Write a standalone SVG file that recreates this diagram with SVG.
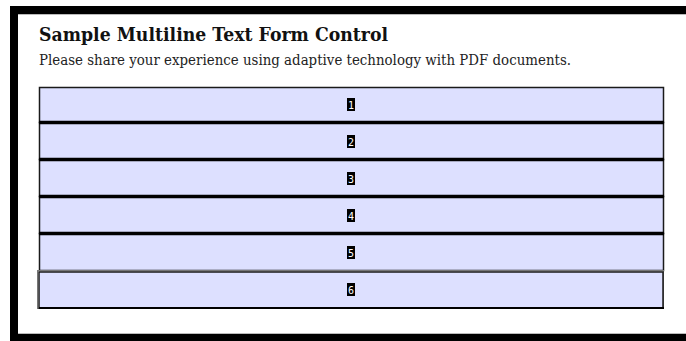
<svg xmlns="http://www.w3.org/2000/svg" width="686" height="341" viewBox="0 0 686 341">
  <style>
    .title { font-family: "DejaVu Serif", "Liberation Serif", serif; font-weight: bold; font-size: 19px; fill: #111; }
    .sub { font-family: "DejaVu Serif", "Liberation Serif", serif; font-size: 14px; fill: #222; }
    .field { fill: #dde0ff; stroke: #1a1a1a; stroke-width: 1.5; }
    .sep { stroke: #000; stroke-width: 3.5; }
    .tag { fill: #000; }
    .num { font-family: "DejaVu Sans Mono", "Liberation Mono", monospace; font-size: 10px; fill: #fff; text-anchor: middle; }
  </style>

  <!-- page background and frame -->
  <rect x="0" y="0" width="686" height="341" fill="#fff"/>
  <rect x="10" y="6" width="676" height="8" fill="#000"/>
  <rect x="10" y="14" width="676" height="1" fill="#bbb"/>
  <rect x="10" y="6" width="8" height="335" fill="#000"/>
  <rect x="18" y="333" width="668" height="1" fill="#bbb"/>
  <rect x="18" y="334" width="668" height="7" fill="#000"/>

  <!-- heading -->
  <text class="title" x="39" y="41" textLength="349" lengthAdjust="spacingAndGlyphs">Sample Multiline Text Form Control</text>
  <text class="sub" x="39" y="65" textLength="532" lengthAdjust="spacingAndGlyphs">Please share your experience using adaptive technology with PDF documents.</text>

  <!-- form field rows -->
  <g id="row1">
    <rect class="field" x="39.5" y="87.5" width="624" height="35"/>
    <rect class="tag" x="347" y="98" width="8" height="13"/>
    <text class="num" x="351" y="108.5">1</text>
  </g>
  <g id="row2">
    <rect class="field" x="39.5" y="122.5" width="624" height="37"/>
    <rect class="tag" x="347" y="135" width="8" height="13"/>
    <text class="num" x="351" y="145.5">2</text>
  </g>
  <g id="row3">
    <rect class="field" x="39.5" y="159.5" width="624" height="37"/>
    <rect class="tag" x="347" y="172" width="8" height="13"/>
    <text class="num" x="351" y="182.5">3</text>
  </g>
  <g id="row4">
    <rect class="field" x="39.5" y="196.5" width="624" height="37"/>
    <rect class="tag" x="347" y="209" width="8" height="13"/>
    <text class="num" x="351" y="219.5">4</text>
  </g>
  <g id="row5">
    <rect class="field" x="39.5" y="233.5" width="624" height="37"/>
    <rect class="tag" x="347" y="246" width="8" height="13"/>
    <text class="num" x="351" y="256.5">5</text>
  </g>
  <g id="row6">
    <rect x="37.5" y="270.5" width="626" height="38" fill="none" stroke="#777" stroke-width="1"/>
    <rect class="field" x="39" y="272" width="624" height="36"/>
    <rect class="tag" x="347" y="283" width="8" height="13"/>
    <text class="num" x="351" y="293.5">6</text>
  </g>

  <!-- heavy dividers between rows -->
  <g id="dividers">
    <line class="sep" x1="39" y1="122.5" x2="664" y2="122.5"/>
    <line class="sep" x1="39" y1="159.5" x2="664" y2="159.5"/>
    <line class="sep" x1="39" y1="196.5" x2="664" y2="196.5"/>
    <line class="sep" x1="39" y1="233.5" x2="664" y2="233.5"/>
    <line x1="39" y1="308" x2="664" y2="308" stroke="#000" stroke-width="2"/>
  </g>
</svg>
